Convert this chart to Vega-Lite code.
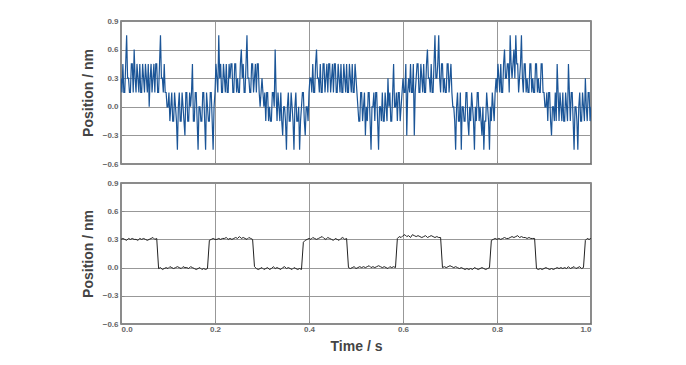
{
  "$schema": "https://vega.github.io/schema/vega-lite/v6.json",
  "padding": {"left": 80, "top": 16, "right": 5, "bottom": 5},
  "background": "white",
  "spacing": 9,
  "datasets": {
    "top": [
{"t":0,"y":0.3},{"t":0.002,"y":0.15},{"t":0.004,"y":0.45},{"t":0.006,"y":0.15},{"t":0.008,"y":0.15},{"t":0.01,"y":0.45},{"t":0.012,"y":0.75},{"t":0.014,"y":0.3},{"t":0.016,"y":0.3},{"t":0.018,"y":0.15},
{"t":0.02,"y":0.15},{"t":0.022,"y":0.45},{"t":0.024,"y":0.45},{"t":0.026,"y":0.15},{"t":0.028,"y":0.6},{"t":0.03,"y":0.3},{"t":0.032,"y":0.15},{"t":0.034,"y":0.45},{"t":0.036,"y":0.3},{"t":0.038,"y":0.15},
{"t":0.04,"y":0.45},{"t":0.042,"y":0.15},{"t":0.044,"y":0.15},{"t":0.046,"y":0.45},{"t":0.048,"y":0.3},{"t":0.05,"y":0.15},{"t":0.052,"y":0.45},{"t":0.054,"y":0.3},{"t":0.056,"y":0.15},{"t":0.058,"y":0.45},
{"t":0.06,"y":0.0},{"t":0.062,"y":0.3},{"t":0.064,"y":0.45},{"t":0.066,"y":0.15},{"t":0.068,"y":0.3},{"t":0.07,"y":0.45},{"t":0.072,"y":0.15},{"t":0.074,"y":0.45},{"t":0.076,"y":0.45},{"t":0.078,"y":0.15},
{"t":0.08,"y":0.15},{"t":0.082,"y":0.45},{"t":0.084,"y":0.75},{"t":0.086,"y":0.3},{"t":0.088,"y":0.3},{"t":0.09,"y":0.15},{"t":0.092,"y":0.45},{"t":0.094,"y":0.15},{"t":0.096,"y":0.15},{"t":0.098,"y":0.0},
{"t":0.1,"y":0.0},{"t":0.102,"y":0.15},{"t":0.104,"y":-0.15},{"t":0.106,"y":0.0},{"t":0.108,"y":0.15},{"t":0.11,"y":-0.15},{"t":0.112,"y":-0.15},{"t":0.114,"y":0.15},{"t":0.116,"y":0.0},{"t":0.118,"y":-0.15},
{"t":0.12,"y":-0.45},{"t":0.122,"y":0.0},{"t":0.124,"y":0.15},{"t":0.126,"y":-0.15},{"t":0.128,"y":-0.15},{"t":0.13,"y":0.15},{"t":0.132,"y":0.0},{"t":0.134,"y":-0.15},{"t":0.136,"y":-0.3},{"t":0.138,"y":0.15},
{"t":0.14,"y":0.15},{"t":0.142,"y":-0.15},{"t":0.144,"y":-0.15},{"t":0.146,"y":0.15},{"t":0.148,"y":0.0},{"t":0.15,"y":0.15},{"t":0.152,"y":0.45},{"t":0.154,"y":-0.15},{"t":0.156,"y":-0.15},{"t":0.158,"y":0.15},
{"t":0.16,"y":0.15},{"t":0.162,"y":-0.15},{"t":0.164,"y":-0.45},{"t":0.166,"y":0.0},{"t":0.168,"y":0.0},{"t":0.17,"y":-0.15},{"t":0.172,"y":-0.15},{"t":0.174,"y":0.15},{"t":0.176,"y":0.15},{"t":0.178,"y":-0.15},
{"t":0.18,"y":-0.45},{"t":0.182,"y":0.15},{"t":0.184,"y":0.0},{"t":0.186,"y":-0.15},{"t":0.188,"y":-0.15},{"t":0.19,"y":0.15},{"t":0.192,"y":0.15},{"t":0.194,"y":-0.15},{"t":0.196,"y":-0.45},{"t":0.198,"y":0.0},
{"t":0.2,"y":0.15},{"t":0.202,"y":0.45},{"t":0.204,"y":0.3},{"t":0.206,"y":0.15},{"t":0.208,"y":0.75},{"t":0.21,"y":0.3},{"t":0.212,"y":0.45},{"t":0.214,"y":0.15},{"t":0.216,"y":0.15},{"t":0.218,"y":0.45},
{"t":0.22,"y":0.3},{"t":0.222,"y":0.15},{"t":0.224,"y":0.45},{"t":0.226,"y":0.15},{"t":0.228,"y":0.15},{"t":0.23,"y":0.45},{"t":0.232,"y":0.3},{"t":0.234,"y":0.45},{"t":0.236,"y":0.45},{"t":0.238,"y":0.15},
{"t":0.24,"y":0.15},{"t":0.242,"y":0.45},{"t":0.244,"y":0.45},{"t":0.246,"y":0.15},{"t":0.248,"y":0.3},{"t":0.25,"y":0.15},{"t":0.252,"y":0.15},{"t":0.254,"y":0.45},{"t":0.256,"y":0.6},{"t":0.258,"y":0.3},
{"t":0.26,"y":0.45},{"t":0.262,"y":0.15},{"t":0.264,"y":0.15},{"t":0.266,"y":0.45},{"t":0.268,"y":0.75},{"t":0.27,"y":0.3},{"t":0.272,"y":0.3},{"t":0.274,"y":0.15},{"t":0.276,"y":0.15},{"t":0.278,"y":0.45},
{"t":0.28,"y":0.45},{"t":0.282,"y":0.15},{"t":0.284,"y":0.3},{"t":0.286,"y":0.45},{"t":0.288,"y":0.15},{"t":0.29,"y":0.45},{"t":0.292,"y":0.45},{"t":0.294,"y":0.15},{"t":0.296,"y":0.0},{"t":0.298,"y":0.15},
{"t":0.3,"y":0.3},{"t":0.302,"y":0.15},{"t":0.304,"y":0.0},{"t":0.306,"y":0.15},{"t":0.308,"y":-0.15},{"t":0.31,"y":0.15},{"t":0.312,"y":0.15},{"t":0.314,"y":-0.15},{"t":0.316,"y":0.0},{"t":0.318,"y":-0.15},
{"t":0.32,"y":-0.15},{"t":0.322,"y":0.15},{"t":0.324,"y":0.15},{"t":0.326,"y":0.0},{"t":0.328,"y":0.6},{"t":0.33,"y":0.15},{"t":0.332,"y":-0.15},{"t":0.334,"y":0.15},{"t":0.336,"y":0.0},{"t":0.338,"y":-0.15},
{"t":0.34,"y":0.15},{"t":0.342,"y":-0.15},{"t":0.344,"y":-0.3},{"t":0.346,"y":0.0},{"t":0.348,"y":0.0},{"t":0.35,"y":-0.15},{"t":0.352,"y":-0.45},{"t":0.354,"y":0.0},{"t":0.356,"y":0.15},{"t":0.358,"y":-0.15},
{"t":0.36,"y":-0.15},{"t":0.362,"y":0.15},{"t":0.364,"y":0.0},{"t":0.366,"y":-0.15},{"t":0.368,"y":-0.45},{"t":0.37,"y":0.0},{"t":0.372,"y":0.15},{"t":0.374,"y":-0.15},{"t":0.376,"y":-0.15},{"t":0.378,"y":0.0},
{"t":0.38,"y":-0.45},{"t":0.382,"y":-0.15},{"t":0.384,"y":0.0},{"t":0.386,"y":0.15},{"t":0.388,"y":0.15},{"t":0.39,"y":-0.15},{"t":0.392,"y":-0.3},{"t":0.394,"y":0.0},{"t":0.396,"y":0.0},{"t":0.398,"y":-0.15},
{"t":0.4,"y":0.15},{"t":0.402,"y":0.3},{"t":0.404,"y":0.3},{"t":0.406,"y":0.15},{"t":0.408,"y":0.45},{"t":0.41,"y":0.15},{"t":0.412,"y":0.15},{"t":0.414,"y":0.45},{"t":0.416,"y":0.6},{"t":0.418,"y":0.3},
{"t":0.42,"y":0.3},{"t":0.422,"y":0.15},{"t":0.424,"y":0.45},{"t":0.426,"y":0.15},{"t":0.428,"y":0.15},{"t":0.43,"y":0.45},{"t":0.432,"y":0.45},{"t":0.434,"y":0.15},{"t":0.436,"y":0.3},{"t":0.438,"y":0.45},
{"t":0.44,"y":0.15},{"t":0.442,"y":0.45},{"t":0.444,"y":0.45},{"t":0.446,"y":0.15},{"t":0.448,"y":0.3},{"t":0.45,"y":0.45},{"t":0.452,"y":0.15},{"t":0.454,"y":0.45},{"t":0.456,"y":0.45},{"t":0.458,"y":0.15},
{"t":0.46,"y":0.15},{"t":0.462,"y":0.45},{"t":0.464,"y":0.3},{"t":0.466,"y":0.15},{"t":0.468,"y":0.45},{"t":0.47,"y":0.15},{"t":0.472,"y":0.15},{"t":0.474,"y":0.45},{"t":0.476,"y":0.3},{"t":0.478,"y":0.15},
{"t":0.48,"y":0.45},{"t":0.482,"y":0.15},{"t":0.484,"y":0.15},{"t":0.486,"y":0.45},{"t":0.488,"y":0.3},{"t":0.49,"y":0.15},{"t":0.492,"y":0.45},{"t":0.494,"y":0.15},{"t":0.496,"y":0.15},{"t":0.498,"y":0.45},
{"t":0.5,"y":0.3},{"t":0.502,"y":0.15},{"t":0.504,"y":0.0},{"t":0.506,"y":-0.15},{"t":0.508,"y":-0.15},{"t":0.51,"y":0.15},{"t":0.512,"y":0.15},{"t":0.514,"y":-0.15},{"t":0.516,"y":0.0},{"t":0.518,"y":0.15},
{"t":0.52,"y":-0.3},{"t":0.522,"y":0.0},{"t":0.524,"y":-0.15},{"t":0.526,"y":0.15},{"t":0.528,"y":0.15},{"t":0.53,"y":-0.15},{"t":0.532,"y":-0.45},{"t":0.534,"y":0.0},{"t":0.536,"y":0.0},{"t":0.538,"y":0.15},
{"t":0.54,"y":-0.15},{"t":0.542,"y":0.15},{"t":0.544,"y":0.15},{"t":0.546,"y":-0.15},{"t":0.548,"y":-0.45},{"t":0.55,"y":0.0},{"t":0.552,"y":0.0},{"t":0.554,"y":-0.15},{"t":0.556,"y":0.15},{"t":0.558,"y":-0.15},
{"t":0.56,"y":-0.15},{"t":0.562,"y":0.15},{"t":0.564,"y":0.0},{"t":0.566,"y":-0.15},{"t":0.568,"y":0.3},{"t":0.57,"y":0.0},{"t":0.572,"y":0.15},{"t":0.574,"y":-0.15},{"t":0.576,"y":-0.15},{"t":0.578,"y":0.15},
{"t":0.58,"y":0.45},{"t":0.582,"y":0.0},{"t":0.584,"y":0.0},{"t":0.586,"y":0.15},{"t":0.588,"y":-0.15},{"t":0.59,"y":0.15},{"t":0.592,"y":0.15},{"t":0.594,"y":-0.15},{"t":0.596,"y":0.0},{"t":0.598,"y":0.15},
{"t":0.6,"y":0.3},{"t":0.602,"y":0.15},{"t":0.604,"y":0.15},{"t":0.606,"y":0.45},{"t":0.608,"y":-0.3},{"t":0.61,"y":0.15},{"t":0.612,"y":0.3},{"t":0.614,"y":0.15},{"t":0.616,"y":0.45},{"t":0.618,"y":0.15},
{"t":0.62,"y":0.15},{"t":0.622,"y":0.45},{"t":0.624,"y":-0.3},{"t":0.626,"y":0.15},{"t":0.628,"y":0.3},{"t":0.63,"y":0.45},{"t":0.632,"y":0.45},{"t":0.634,"y":0.15},{"t":0.636,"y":0.15},{"t":0.638,"y":0.45},
{"t":0.64,"y":0.3},{"t":0.642,"y":0.15},{"t":0.644,"y":0.45},{"t":0.646,"y":0.15},{"t":0.648,"y":0.15},{"t":0.65,"y":0.45},{"t":0.652,"y":0.6},{"t":0.654,"y":0.3},{"t":0.656,"y":0.3},{"t":0.658,"y":0.15},
{"t":0.66,"y":0.45},{"t":0.662,"y":0.15},{"t":0.664,"y":0.15},{"t":0.666,"y":0.45},{"t":0.668,"y":0.75},{"t":0.67,"y":0.3},{"t":0.672,"y":0.3},{"t":0.674,"y":0.45},{"t":0.676,"y":0.75},{"t":0.678,"y":0.3},
{"t":0.68,"y":0.15},{"t":0.682,"y":0.45},{"t":0.684,"y":0.45},{"t":0.686,"y":0.15},{"t":0.688,"y":0.3},{"t":0.69,"y":0.15},{"t":0.692,"y":0.15},{"t":0.694,"y":0.45},{"t":0.696,"y":0.45},{"t":0.698,"y":0.15},
{"t":0.7,"y":0.3},{"t":0.702,"y":0.45},{"t":0.704,"y":0.15},{"t":0.706,"y":0.0},{"t":0.708,"y":0.0},{"t":0.71,"y":-0.15},{"t":0.712,"y":-0.45},{"t":0.714,"y":0.0},{"t":0.716,"y":0.15},{"t":0.718,"y":-0.15},
{"t":0.72,"y":-0.15},{"t":0.722,"y":0.15},{"t":0.724,"y":-0.45},{"t":0.726,"y":0.0},{"t":0.728,"y":0.0},{"t":0.73,"y":-0.15},{"t":0.732,"y":-0.15},{"t":0.734,"y":0.15},{"t":0.736,"y":0.15},{"t":0.738,"y":-0.15},
{"t":0.74,"y":-0.3},{"t":0.742,"y":0.0},{"t":0.744,"y":-0.15},{"t":0.746,"y":0.15},{"t":0.748,"y":0.0},{"t":0.75,"y":-0.15},{"t":0.752,"y":-0.45},{"t":0.754,"y":0.0},{"t":0.756,"y":-0.15},{"t":0.758,"y":0.15},
{"t":0.76,"y":0.15},{"t":0.762,"y":-0.15},{"t":0.764,"y":0.0},{"t":0.766,"y":-0.15},{"t":0.768,"y":-0.3},{"t":0.77,"y":0.0},{"t":0.772,"y":-0.45},{"t":0.774,"y":-0.15},{"t":0.776,"y":-0.15},{"t":0.778,"y":0.15},
{"t":0.78,"y":0.0},{"t":0.782,"y":-0.15},{"t":0.784,"y":-0.45},{"t":0.786,"y":0.0},{"t":0.788,"y":-0.15},{"t":0.79,"y":0.15},{"t":0.792,"y":0.0},{"t":0.794,"y":-0.15},{"t":0.796,"y":0.15},{"t":0.798,"y":0.3},
{"t":0.8,"y":0.15},{"t":0.802,"y":0.45},{"t":0.804,"y":0.3},{"t":0.806,"y":0.15},{"t":0.808,"y":0.45},{"t":0.81,"y":0.15},{"t":0.812,"y":0.15},{"t":0.814,"y":0.45},{"t":0.816,"y":0.6},{"t":0.818,"y":0.3},
{"t":0.82,"y":0.3},{"t":0.822,"y":0.45},{"t":0.824,"y":0.45},{"t":0.826,"y":0.15},{"t":0.828,"y":0.75},{"t":0.83,"y":0.45},{"t":0.832,"y":0.3},{"t":0.834,"y":0.45},{"t":0.836,"y":0.6},{"t":0.838,"y":0.3},
{"t":0.84,"y":0.75},{"t":0.842,"y":0.45},{"t":0.844,"y":0.45},{"t":0.846,"y":0.15},{"t":0.848,"y":0.3},{"t":0.85,"y":0.45},{"t":0.852,"y":0.75},{"t":0.854,"y":0.3},{"t":0.856,"y":0.15},{"t":0.858,"y":0.45},
{"t":0.86,"y":0.45},{"t":0.862,"y":0.15},{"t":0.864,"y":0.3},{"t":0.866,"y":0.15},{"t":0.868,"y":0.15},{"t":0.87,"y":0.45},{"t":0.872,"y":0.45},{"t":0.874,"y":0.15},{"t":0.876,"y":0.3},{"t":0.878,"y":0.15},
{"t":0.88,"y":0.15},{"t":0.882,"y":0.45},{"t":0.884,"y":0.45},{"t":0.886,"y":0.15},{"t":0.888,"y":0.3},{"t":0.89,"y":0.15},{"t":0.892,"y":0.15},{"t":0.894,"y":0.45},{"t":0.896,"y":0.45},{"t":0.898,"y":0.15},
{"t":0.9,"y":0.15},{"t":0.902,"y":0.0},{"t":0.904,"y":0.0},{"t":0.906,"y":0.15},{"t":0.908,"y":-0.15},{"t":0.91,"y":0.15},{"t":0.912,"y":0.15},{"t":0.914,"y":-0.15},{"t":0.916,"y":-0.3},{"t":0.918,"y":0.0},
{"t":0.92,"y":0.0},{"t":0.922,"y":-0.15},{"t":0.924,"y":0.15},{"t":0.926,"y":-0.15},{"t":0.928,"y":0.45},{"t":0.93,"y":0.15},{"t":0.932,"y":-0.15},{"t":0.934,"y":0.15},{"t":0.936,"y":0.0},{"t":0.938,"y":-0.15},
{"t":0.94,"y":0.15},{"t":0.942,"y":-0.15},{"t":0.944,"y":-0.15},{"t":0.946,"y":0.15},{"t":0.948,"y":0.0},{"t":0.95,"y":-0.15},{"t":0.952,"y":0.45},{"t":0.954,"y":0.15},{"t":0.956,"y":-0.15},{"t":0.958,"y":0.15},
{"t":0.96,"y":0.15},{"t":0.962,"y":-0.15},{"t":0.964,"y":-0.45},{"t":0.966,"y":0.0},{"t":0.968,"y":0.0},{"t":0.97,"y":-0.15},{"t":0.972,"y":-0.45},{"t":0.974,"y":0.0},{"t":0.976,"y":0.15},{"t":0.978,"y":-0.15},
{"t":0.98,"y":-0.15},{"t":0.982,"y":0.15},{"t":0.984,"y":0.0},{"t":0.986,"y":-0.15},{"t":0.988,"y":0.3},{"t":0.99,"y":0.0},{"t":0.992,"y":-0.15},{"t":0.994,"y":0.15},{"t":0.996,"y":0.15},{"t":0.998,"y":-0.15},
{"t":1.0,"y":0.0}
    ],
    "bot": [
{"t":0,"b":0.30},{"t":0.004,"b":0.31},{"t":0.008,"b":0.30},{"t":0.012,"b":0.29},{"t":0.016,"b":0.31},{"t":0.02,"b":0.30},{"t":0.024,"b":0.31},{"t":0.028,"b":0.30},{"t":0.032,"b":0.30},{"t":0.036,"b":0.29},
{"t":0.04,"b":0.31},{"t":0.044,"b":0.30},{"t":0.048,"b":0.31},{"t":0.052,"b":0.30},{"t":0.056,"b":0.29},{"t":0.06,"b":0.30},{"t":0.064,"b":0.31},{"t":0.068,"b":0.32},{"t":0.072,"b":0.30},{"t":0.076,"b":0.31},
{"t":0.08,"b":-0.01},{"t":0.084,"b":0.00},{"t":0.088,"b":-0.02},{"t":0.092,"b":-0.01},{"t":0.096,"b":0.00},{"t":0.1,"b":-0.01},{"t":0.104,"b":0.01},{"t":0.108,"b":0.00},{"t":0.112,"b":-0.01},{"t":0.116,"b":0.00},
{"t":0.12,"b":0.01},{"t":0.124,"b":0.00},{"t":0.128,"b":-0.01},{"t":0.132,"b":0.01},{"t":0.136,"b":0.00},{"t":0.14,"b":0.00},{"t":0.144,"b":-0.01},{"t":0.148,"b":0.01},{"t":0.152,"b":0.00},{"t":0.156,"b":-0.01},
{"t":0.16,"b":-0.02},{"t":0.164,"b":-0.01},{"t":0.168,"b":0.00},{"t":0.172,"b":-0.02},{"t":0.176,"b":-0.01},{"t":0.18,"b":-0.02},{"t":0.184,"b":-0.01},{"t":0.188,"b":0.29},{"t":0.192,"b":0.30},{"t":0.196,"b":0.31},
{"t":0.2,"b":0.30},{"t":0.204,"b":0.30},{"t":0.208,"b":0.31},{"t":0.212,"b":0.30},{"t":0.216,"b":0.31},{"t":0.22,"b":0.31},{"t":0.224,"b":0.32},{"t":0.228,"b":0.30},{"t":0.232,"b":0.31},{"t":0.236,"b":0.30},
{"t":0.24,"b":0.31},{"t":0.244,"b":0.32},{"t":0.248,"b":0.31},{"t":0.252,"b":0.33},{"t":0.256,"b":0.31},{"t":0.26,"b":0.32},{"t":0.264,"b":0.31},{"t":0.268,"b":0.30},{"t":0.272,"b":0.32},{"t":0.276,"b":0.31},
{"t":0.28,"b":0.30},{"t":0.284,"b":0.01},{"t":0.288,"b":-0.01},{"t":0.292,"b":-0.02},{"t":0.296,"b":-0.01},{"t":0.3,"b":0.00},{"t":0.304,"b":-0.02},{"t":0.308,"b":-0.01},{"t":0.312,"b":0.00},{"t":0.316,"b":-0.02},
{"t":0.32,"b":-0.01},{"t":0.324,"b":0.01},{"t":0.328,"b":-0.01},{"t":0.332,"b":0.00},{"t":0.336,"b":-0.01},{"t":0.34,"b":-0.02},{"t":0.344,"b":0.00},{"t":0.348,"b":0.01},{"t":0.352,"b":-0.01},{"t":0.356,"b":0.00},
{"t":0.36,"b":-0.01},{"t":0.364,"b":-0.02},{"t":0.368,"b":0.00},{"t":0.372,"b":-0.01},{"t":0.376,"b":-0.02},{"t":0.38,"b":-0.01},{"t":0.384,"b":-0.02},{"t":0.388,"b":0.27},{"t":0.392,"b":0.29},{"t":0.396,"b":0.30},
{"t":0.4,"b":0.31},{"t":0.404,"b":0.30},{"t":0.408,"b":0.32},{"t":0.412,"b":0.31},{"t":0.416,"b":0.30},{"t":0.42,"b":0.31},{"t":0.424,"b":0.32},{"t":0.428,"b":0.33},{"t":0.432,"b":0.31},{"t":0.436,"b":0.30},
{"t":0.44,"b":0.32},{"t":0.444,"b":0.31},{"t":0.448,"b":0.30},{"t":0.452,"b":0.29},{"t":0.456,"b":0.31},{"t":0.46,"b":0.30},{"t":0.464,"b":0.29},{"t":0.468,"b":0.31},{"t":0.472,"b":0.32},{"t":0.476,"b":0.30},
{"t":0.48,"b":0.31},{"t":0.484,"b":0.00},{"t":0.488,"b":-0.01},{"t":0.492,"b":0.00},{"t":0.496,"b":0.01},{"t":0.5,"b":-0.01},{"t":0.504,"b":0.00},{"t":0.508,"b":0.01},{"t":0.512,"b":0.00},{"t":0.516,"b":0.01},
{"t":0.52,"b":0.00},{"t":0.524,"b":0.01},{"t":0.528,"b":0.02},{"t":0.532,"b":0.00},{"t":0.536,"b":0.01},{"t":0.54,"b":0.00},{"t":0.544,"b":0.01},{"t":0.548,"b":0.02},{"t":0.552,"b":0.01},{"t":0.556,"b":0.00},
{"t":0.56,"b":0.01},{"t":0.564,"b":0.00},{"t":0.568,"b":-0.01},{"t":0.572,"b":0.01},{"t":0.576,"b":0.00},{"t":0.58,"b":0.01},{"t":0.584,"b":0.00},{"t":0.588,"b":0.31},{"t":0.592,"b":0.33},{"t":0.596,"b":0.32},
{"t":0.6,"b":0.34},{"t":0.604,"b":0.35},{"t":0.608,"b":0.33},{"t":0.612,"b":0.34},{"t":0.616,"b":0.32},{"t":0.62,"b":0.35},{"t":0.624,"b":0.34},{"t":0.628,"b":0.33},{"t":0.632,"b":0.34},{"t":0.636,"b":0.33},
{"t":0.64,"b":0.32},{"t":0.644,"b":0.33},{"t":0.648,"b":0.34},{"t":0.652,"b":0.32},{"t":0.656,"b":0.33},{"t":0.66,"b":0.34},{"t":0.664,"b":0.33},{"t":0.668,"b":0.32},{"t":0.672,"b":0.33},{"t":0.676,"b":0.32},
{"t":0.68,"b":0.32},{"t":0.684,"b":0.00},{"t":0.688,"b":0.01},{"t":0.692,"b":0.00},{"t":0.696,"b":0.01},{"t":0.7,"b":0.02},{"t":0.704,"b":0.01},{"t":0.708,"b":0.00},{"t":0.712,"b":0.01},{"t":0.716,"b":0.00},
{"t":0.72,"b":-0.01},{"t":0.724,"b":0.00},{"t":0.728,"b":-0.01},{"t":0.732,"b":-0.02},{"t":0.736,"b":-0.01},{"t":0.74,"b":-0.02},{"t":0.744,"b":-0.01},{"t":0.748,"b":-0.02},{"t":0.752,"b":0.00},{"t":0.756,"b":-0.01},
{"t":0.76,"b":-0.02},{"t":0.764,"b":-0.01},{"t":0.768,"b":0.00},{"t":0.772,"b":-0.01},{"t":0.776,"b":-0.02},{"t":0.78,"b":-0.01},{"t":0.784,"b":0.00},{"t":0.788,"b":0.29},{"t":0.792,"b":0.30},{"t":0.796,"b":0.31},
{"t":0.8,"b":0.30},{"t":0.804,"b":0.31},{"t":0.808,"b":0.30},{"t":0.812,"b":0.31},{"t":0.816,"b":0.32},{"t":0.82,"b":0.31},{"t":0.824,"b":0.31},{"t":0.828,"b":0.32},{"t":0.832,"b":0.33},{"t":0.836,"b":0.32},
{"t":0.84,"b":0.33},{"t":0.844,"b":0.34},{"t":0.848,"b":0.32},{"t":0.852,"b":0.33},{"t":0.856,"b":0.32},{"t":0.86,"b":0.32},{"t":0.864,"b":0.31},{"t":0.868,"b":0.32},{"t":0.872,"b":0.31},{"t":0.876,"b":0.31},
{"t":0.88,"b":0.31},{"t":0.884,"b":-0.01},{"t":0.888,"b":-0.02},{"t":0.892,"b":-0.01},{"t":0.896,"b":-0.02},{"t":0.9,"b":-0.01},{"t":0.904,"b":0.00},{"t":0.908,"b":-0.01},{"t":0.912,"b":-0.02},{"t":0.916,"b":-0.01},
{"t":0.92,"b":-0.02},{"t":0.924,"b":-0.01},{"t":0.928,"b":0.00},{"t":0.932,"b":-0.01},{"t":0.936,"b":0.00},{"t":0.94,"b":-0.01},{"t":0.944,"b":0.00},{"t":0.948,"b":-0.01},{"t":0.952,"b":0.01},{"t":0.956,"b":-0.01},
{"t":0.96,"b":0.00},{"t":0.964,"b":0.01},{"t":0.968,"b":-0.01},{"t":0.972,"b":0.00},{"t":0.976,"b":0.01},{"t":0.98,"b":-0.01},{"t":0.984,"b":0.00},{"t":0.988,"b":0.29},{"t":0.992,"b":0.31},{"t":0.996,"b":0.30},
{"t":1.0,"b":0.31}
    ]
  },
  "vconcat": [
    {
      "width": 470,
      "height": 143,
      "data": {"name": "top"},
      "mark": {"type": "line", "color": "#1b5597", "strokeWidth": 1.2, "clip": true},
      "encoding": {
        "x": {"field": "t", "type": "quantitative",
              "scale": {"domain": [0, 1], "nice": false},
              "axis": {"values": [0, 0.2, 0.4, 0.6, 0.8, 1.0], "labels": false, "title": null}},
        "y": {"field": "y", "type": "quantitative",
              "scale": {"domain": [-0.6, 0.9], "nice": false},
              "axis": {"values": [-0.6, -0.3, 0, 0.3, 0.6, 0.9], "format": ".1f", "title": "Position / nm"}}
      }
    },
    {
      "width": 470,
      "height": 141,
      "data": {"name": "bot"},
      "mark": {"type": "line", "color": "#222222", "strokeWidth": 1, "clip": true},
      "encoding": {
        "x": {"field": "t", "type": "quantitative",
              "scale": {"domain": [0, 1], "nice": false},
              "axis": {"values": [0, 0.2, 0.4, 0.6, 0.8, 1.0], "format": ".1f", "title": "Time / s"}},
        "y": {"field": "b", "type": "quantitative",
              "scale": {"domain": [-0.6, 0.9], "nice": false},
              "axis": {"values": [-0.6, -0.3, 0, 0.3, 0.6, 0.9], "format": ".1f", "title": "Position / nm"}}
      }
    }
  ],
  "config": {
    "font": "Liberation Sans",
    "view": {"stroke": "#666666", "strokeWidth": 1.5},
    "axis": {
      "domain": false,
      "ticks": true,
      "tickSize": -3,
      "tickColor": "#888888",
      "grid": true,
      "gridColor": "#8c8c8c",
      "gridWidth": 0.9,
      "labelFont": "Liberation Sans",
      "labelFontSize": 8,
      "labelFontWeight": "bold",
      "labelColor": "#666666",
      "labelPadding": 6,
      "titleFont": "Liberation Sans",
      "titleFontSize": 14,
      "titleFontWeight": "bold",
      "titleColor": "#444444"
    },
    "axisY": {"titlePadding": 7},
    "axisX": {"titlePadding": 6, "labelPadding": 4}
  }
}
